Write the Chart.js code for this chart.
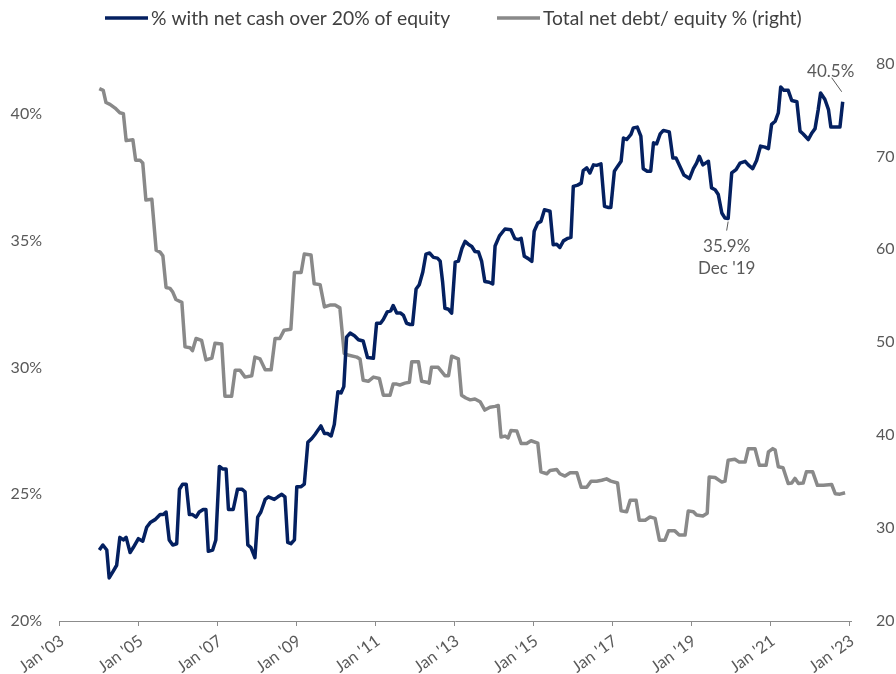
<!DOCTYPE html>
<html><head><meta charset="utf-8">
<script src="https://cdn.jsdelivr.net/npm/chart.js@4.4.0/dist/chart.umd.min.js"></script>
<style>html,body{margin:0;padding:0;background:#fff;}#wrap{width:896px;height:674px;}</style>
</head><body><div id="wrap"><canvas id="c" width="896" height="674"></canvas></div>
<script>
// ---- Data ----
const seriesNames = ["% with net cash over 20% of equity", "Total net debt/ equity % (right)"];
const xTickYears = [2003, 2005, 2007, 2009, 2011, 2013, 2015, 2017, 2019, 2021, 2023];
const xTickLabels = ["Jan '03", "Jan '05", "Jan '07", "Jan '09", "Jan '11", "Jan '13", "Jan '15", "Jan '17", "Jan '19", "Jan '21", "Jan '23"];
const leftTicks = [20, 25, 30, 35, 40];
const rightTicks = [20, 30, 40, 50, 60, 70, 80];

const navyYears = [2004.02,2004.11,2004.21,2004.27,2004.37,2004.46,2004.54,2004.63,2004.70,2004.80,2004.88,
 2005.01,2005.12,2005.22,2005.32,2005.43,2005.56,2005.64,2005.71,2005.79,2005.88,2005.98,
 2006.05,2006.13,2006.22,2006.30,2006.38,2006.47,2006.55,2006.65,2006.72,2006.78,2006.89,2006.97,
 2007.06,2007.14,2007.23,2007.29,2007.41,2007.52,2007.63,2007.71,2007.78,2007.86,2007.96,
 2008.03,2008.11,2008.22,2008.30,2008.45,2008.54,2008.64,2008.72,2008.79,2008.87,2008.96,
 2009.02,2009.13,2009.21,2009.30,2009.40,2009.48,2009.63,2009.72,2009.80,2009.89,2009.97,
 2010.06,2010.14,2010.21,2010.28,2010.37,2010.48,2010.58,2010.70,2010.81,2010.96,
 2011.04,2011.14,2011.21,2011.31,2011.40,2011.46,2011.55,2011.65,2011.72,2011.80,2011.89,2011.95,
 2012.04,2012.12,2012.21,2012.29,2012.38,2012.48,2012.58,2012.65,2012.71,2012.77,2012.86,2012.94,
 2013.03,2013.11,2013.20,2013.28,2013.36,2013.45,2013.53,2013.62,2013.70,2013.78,2013.89,2013.98,
 2014.04,2014.15,2014.29,2014.44,2014.54,2014.63,2014.70,2014.78,2014.88,2014.97,
 2015.03,2015.12,2015.20,2015.29,2015.43,2015.51,2015.60,2015.68,2015.77,2015.88,2015.96,
 2016.02,2016.13,2016.22,2016.27,2016.36,2016.44,2016.53,2016.61,2016.72,2016.81,2016.91,2016.97,
 2017.06,2017.14,2017.23,2017.29,2017.37,2017.48,2017.54,2017.64,2017.73,2017.79,2017.89,2017.98,
 2018.05,2018.13,2018.22,2018.30,2018.45,2018.54,2018.62,2018.72,2018.82,2018.96,
 2019.06,2019.14,2019.21,2019.30,2019.44,2019.52,2019.61,2019.69,2019.78,2019.86,2019.94,
 2020.03,2020.14,2020.24,2020.37,2020.45,2020.56,2020.66,2020.76,2020.87,2020.96,
 2021.04,2021.13,2021.21,2021.27,2021.35,2021.46,2021.55,2021.68,2021.76,2021.84,2021.97,
 2022.06,2022.14,2022.22,2022.28,2022.39,2022.48,2022.54,2022.65,2022.77,2022.84];
const navyValues = [22.8,23.0,22.8,21.7,21.96,22.2,23.3,23.2,23.3,22.7,22.9,
 23.25,23.15,23.7,23.9,24.0,24.2,24.2,24.3,23.2,23.0,23.05,
 25.2,25.4,25.4,24.2,24.2,24.1,24.3,24.4,24.4,22.75,22.8,23.2,
 26.1,26.0,26.0,24.4,24.4,25.2,25.2,25.1,23.0,22.9,22.5,
 24.1,24.3,24.8,24.9,24.8,24.9,25.0,24.9,23.1,23.05,23.2,
 25.3,25.3,25.4,27.05,27.2,27.36,27.7,27.4,27.4,27.3,27.76,
 29.05,29.0,29.25,31.2,31.36,31.26,31.1,31.05,30.4,30.37,
 31.75,31.75,31.9,32.2,32.24,32.45,32.15,32.15,32.06,31.75,31.7,31.7,
 33.1,33.27,33.77,34.48,34.52,34.35,34.32,34.2,33.4,32.34,32.3,32.15,
 34.16,34.2,34.7,34.98,34.87,34.78,34.58,34.56,34.19,33.4,33.37,33.3,
 34.8,35.2,35.47,35.44,35.09,35.05,35.1,34.39,34.3,34.19,
 35.38,35.7,35.77,36.23,36.17,34.85,34.87,34.74,35.0,35.1,35.14,
 37.15,37.2,37.28,37.77,37.88,37.68,38.0,37.98,38.04,36.36,36.32,36.32,
 37.75,37.94,38.14,39.06,39.0,39.2,39.46,39.49,39.13,37.85,37.75,37.75,
 38.87,38.83,39.22,39.36,39.3,38.27,38.27,37.94,37.6,37.46,
 37.85,38.07,38.34,38.0,38.14,37.09,37.02,36.83,36.1,35.9,35.88,
 37.68,37.81,38.07,38.14,38.0,37.85,38.17,38.74,38.7,38.64,
 39.6,39.72,40.05,41.07,40.94,40.94,40.54,40.49,39.33,39.22,39.0,
 39.26,39.43,40.18,40.84,40.58,40.18,39.49,39.49,39.49,40.49];

const grayYears = [2004.02,2004.12,2004.19,2004.29,2004.42,2004.54,2004.63,2004.70,2004.87,2004.94,
 2005.05,2005.12,2005.20,2005.35,2005.46,2005.56,2005.63,2005.71,2005.81,2005.88,2005.96,
 2006.11,2006.19,2006.32,2006.38,2006.47,2006.61,2006.72,2006.87,2006.95,
 2007.12,2007.20,2007.37,2007.46,2007.58,2007.71,2007.88,2007.96,
 2008.09,2008.22,2008.37,2008.47,2008.59,2008.70,2008.87,2008.96,
 2009.13,2009.21,2009.38,2009.46,2009.61,2009.72,2009.86,2009.99,
 2010.11,2010.22,2010.34,2010.54,2010.62,2010.70,2010.83,2010.96,
 2011.11,2011.21,2011.38,2011.46,2011.55,2011.63,2011.76,2011.87,2011.93,
 2012.10,2012.18,2012.31,2012.37,2012.43,2012.60,2012.77,2012.86,2012.94,
 2013.11,2013.19,2013.30,2013.41,2013.53,2013.66,2013.78,2013.91,
 2014.04,2014.12,2014.19,2014.29,2014.37,2014.44,2014.59,2014.70,2014.84,2014.95,
 2015.12,2015.20,2015.35,2015.43,2015.60,2015.68,2015.81,2015.94,
 2016.11,2016.22,2016.36,2016.47,2016.61,2016.74,2016.86,2016.97,
 2017.14,2017.23,2017.37,2017.46,2017.61,2017.69,2017.84,2017.96,
 2018.09,2018.20,2018.34,2018.43,2018.59,2018.70,2018.85,2018.93,
 2019.06,2019.14,2019.30,2019.41,2019.46,2019.61,2019.78,2019.86,2019.94,
 2020.11,2020.22,2020.37,2020.45,2020.62,2020.73,2020.90,2020.96,
 2021.07,2021.13,2021.21,2021.33,2021.46,2021.55,2021.63,2021.72,2021.84,2021.92,
 2022.08,2022.20,2022.35,2022.56,2022.65,2022.77,2022.90];
const grayValues = [77.3,77.1,75.8,75.6,75.2,74.7,74.6,71.7,71.8,69.6,
 69.6,69.3,65.3,65.4,59.9,59.7,59.3,55.9,55.8,55.4,54.6,
 54.3,49.5,49.4,49.1,50.4,50.2,48.1,48.3,49.9,
 49.8,44.2,44.2,47.0,47.0,46.25,46.4,48.4,
 48.2,47.05,47.05,50.4,50.4,51.3,51.4,57.5,
 57.5,59.5,59.4,56.3,56.2,53.8,54.0,54.0,
 53.7,48.8,48.6,48.4,48.2,45.9,45.8,46.25,
 46.1,44.3,44.3,45.5,45.5,45.4,45.6,45.7,47.9,
 47.9,45.8,45.7,45.6,47.3,47.3,46.4,46.4,48.5,
 48.2,44.3,44.0,43.8,43.9,43.6,42.7,43.0,
 43.1,43.2,39.8,39.9,39.7,40.5,40.45,39.1,39.1,39.4,
 39.15,36.05,35.85,36.2,36.3,35.85,35.6,35.95,
 35.95,34.4,34.4,35.05,35.05,35.15,35.3,35.05,
 34.85,31.85,31.75,33.0,33.0,30.85,30.85,31.2,
 31.05,28.7,28.7,29.7,29.7,29.25,29.25,31.85,
 31.75,31.4,31.3,31.6,35.5,35.45,34.95,35.05,37.3,
 37.4,37.1,37.1,38.55,38.55,36.75,36.75,38.2,
 38.55,38.4,36.6,36.5,34.8,34.85,35.35,34.8,34.85,36.05,
 36.05,34.6,34.6,34.7,33.7,33.65,33.8];

const lowLabel = ["35.9%", "Dec '19"];
const lastLabel = "40.5%";

// ---- Styles ----
const NAVY = '#042060';
const GRAY = '#898989';
const TXT = '#595959';
const FONT = "Lato, 'Liberation Sans', sans-serif";

const overlay = {
  id: 'overlay',
  afterDraw(chart) {
    const ctx = chart.ctx;
    const xs = chart.scales.x, ys = chart.scales.y;
    ctx.save();
    // legend
    ctx.font = "19.3px " + FONT;
    ctx.textBaseline = 'middle';
    ctx.textAlign = 'left';
    const items = [[NAVY, 105, seriesNames[0]], [GRAY, 497, seriesNames[1]]];
    items.forEach(([c, x0, t]) => {
      ctx.strokeStyle = c; ctx.lineWidth = 3.5; ctx.lineCap = 'butt';
      ctx.beginPath(); ctx.moveTo(x0, 18); ctx.lineTo(x0 + 43, 18); ctx.stroke();
      ctx.fillStyle = '#404040';
      ctx.fillText(t, x0 + 46, 19);
    });
    // low annotation (Dec '19 minimum)
    let iLow = -1;
    navyYears.forEach((y, i) => { if (y > 2019.5 && y < 2020.1 && (iLow < 0 || navyValues[i] < navyValues[iLow])) iLow = i; });
    const px = xs.getPixelForValue(navyYears[iLow]), py = ys.getPixelForValue(navyValues[iLow]);
    ctx.strokeStyle = TXT; ctx.lineWidth = 1;
    ctx.beginPath(); ctx.moveTo(px, py + 3); ctx.lineTo(px - 1.5, py + 12); ctx.stroke();
    ctx.fillStyle = TXT; ctx.font = "17px " + FONT; ctx.textAlign = 'center';
    ctx.fillText(lowLabel[0], px - 1.5, py + 28);
    ctx.fillText(lowLabel[1], px - 1.5, py + 50);
    // last annotation
    const n = navyYears.length - 1;
    const lx = xs.getPixelForValue(navyYears[n]), ly = ys.getPixelForValue(navyValues[n]);
    ctx.beginPath(); ctx.moveTo(lx - 1, ly - 10); ctx.lineTo(lx - 11, ly - 24); ctx.stroke();
    ctx.fillText(lastLabel, lx - 12, ly - 30);
    ctx.restore();
  }
};

new Chart(document.getElementById('c'), {
  type: 'line',
  data: {
    datasets: [
      { label: seriesNames[0], data: navyYears.map((x, i) => ({ x, y: navyValues[i] })), yAxisID: 'y',
        borderColor: NAVY, backgroundColor: NAVY, borderWidth: 3.5, pointRadius: 0, tension: 0, borderJoinStyle: 'round' },
      { label: seriesNames[1], data: grayYears.map((x, i) => ({ x, y: grayValues[i] })), yAxisID: 'y1',
        borderColor: GRAY, backgroundColor: GRAY, borderWidth: 3.5, pointRadius: 0, tension: 0, borderJoinStyle: 'round' }
    ]
  },
  options: {
    responsive: false, animation: false, devicePixelRatio: 1,
    layout: { padding: { top: 63.5, left: 0, right: 0, bottom: 0 } },
    plugins: { legend: { display: false }, tooltip: { enabled: false } },
    scales: {
      x: {
        type: 'linear', position: 'bottom', min: 2003, max: 2023.05,
        afterBuildTicks: s => { s.ticks = xTickYears.map(v => ({ value: v })); },
        afterFit: s => { s.height = 53; },
        ticks: { autoSkip: false, minRotation: 36, maxRotation: 36, padding: 5, labelOffset: 3, color: TXT,
          font: { family: FONT, size: 16.5 },
          callback: (v, i) => xTickLabels[i] },
        grid: { display: true, drawOnChartArea: false, drawTicks: true, tickLength: 5, color: '#8c8c8c', lineWidth: 1 },
        border: { display: true, color: '#8c8c8c', width: 1 }
      },
      y: {
        type: 'linear', position: 'left', min: 20, max: 42,
        afterBuildTicks: s => { s.ticks = leftTicks.map(v => ({ value: v })); },
        afterFit: s => { s.width = 59; },
        ticks: { padding: 17, color: TXT, font: { family: FONT, size: 16 }, callback: v => v + '%' },
        grid: { display: false, drawTicks: false }, border: { display: false }
      },
      y1: {
        type: 'linear', position: 'right', min: 20, max: 80,
        afterBuildTicks: s => { s.ticks = rightTicks.map(v => ({ value: v })); },
        afterFit: s => { s.width = 45; },
        ticks: { padding: 25, color: TXT, font: { family: FONT, size: 16 } },
        grid: { display: false, drawTicks: false }, border: { display: false }
      }
    }
  },
  plugins: [overlay]
});
</script>
</body></html>
